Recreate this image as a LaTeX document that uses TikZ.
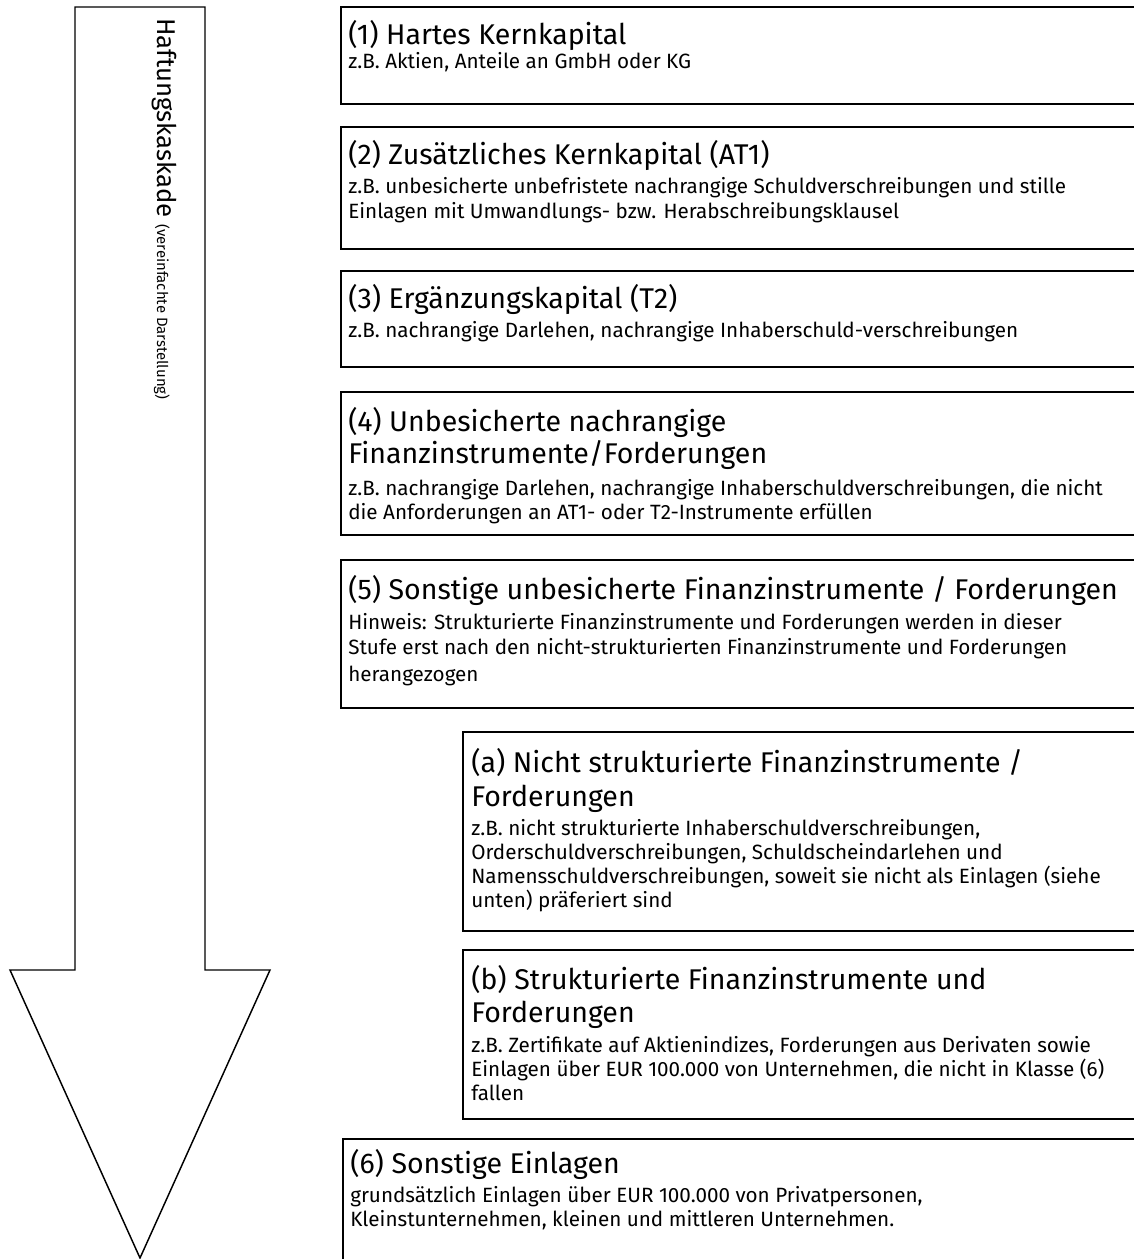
\documentclass[tikz,border=0pt]{standalone}
\usepackage{fontspec}
\setmainfont{Fira Sans}
\begin{document}
\begin{tikzpicture}[x=0.75pt,y=-0.75pt,
  boxline/.style={draw=black,line width=1.1pt},
  arrowline/.style={draw=black,line width=1.1pt,line join=miter},
  tt/.style={anchor=base west,inner sep=0pt,font=\fontsize{21.4}{25}\selectfont},
  st/.style={anchor=base west,inner sep=0pt,font=\fontsize{15.5}{18}\selectfont}]
\clip (0,0) rectangle (1134,1259);
\fill[white] (0,0) rectangle (1134,1259);
% arrow
\draw[arrowline] (75,7) -- (205,7) -- (205,970) -- (270,970) -- (140,1258) -- (10,970) -- (75,970) -- cycle;
\node[anchor=base west,inner sep=0pt,rotate=-90,font=\fontsize{19.3}{23}\selectfont] (arr) at (157,18)
  {Haftungskaskade {\fontsize{11.2}{13}\selectfont (vereinfachte Darstellung)}};
% boxes
\draw[boxline] (1140,7) -- (341,7) -- (341,104) -- (1140,104);
\draw[boxline] (1140,127) -- (341,127) -- (341,249) -- (1140,249);
\draw[boxline] (1140,271) -- (341,271) -- (341,367) -- (1140,367);
\draw[boxline] (1140,392) -- (341,392) -- (341,535) -- (1140,535);
\draw[boxline] (1140,560) -- (341,560) -- (341,708) -- (1140,708);
\draw[boxline] (1140,732) -- (463,732) -- (463,931) -- (1140,931);
\draw[boxline] (1140,950) -- (463,950) -- (463,1119) -- (1140,1119);
\draw[boxline] (1140,1139) -- (343,1139) -- (343,1270);
% box 1
\node[tt] (t1) at (348,45) {(1) Hartes Kernkapital};
\node[st] (s1a) at (348,69) {z.B. Aktien, Anteile an GmbH oder KG};
% box 2
\node[tt] (t2) at (348,165) {(2) Zusätzliches Kernkapital (AT1)};
\node[st] (s2a) at (348,194) {z.B. unbesicherte unbefristete nachrangige Schuldverschreibungen und stille};
\node[st] (s2b) at (348,218) {Einlagen mit Umwandlungs- bzw. Herabschreibungsklausel};
% box 3
\node[tt] (t3) at (348,308) {(3) Ergänzungskapital (T2)};
\node[st] (s3a) at (348,337) {z.B. nachrangige Darlehen, nachrangige Inhaberschuld-verschreibungen};
% box 4
\node[tt] (t4a) at (348,431) {(4) Unbesicherte nachrangige};
\node[tt] (t4b) at (348,463) {Finanzinstrumente/Forderungen};
\node[st] (s4a) at (348,495) {z.B. nachrangige Darlehen, nachrangige Inhaberschuldverschreibungen, die nicht};
\node[st] (s4b) at (348,519) {die Anforderungen an AT1- oder T2-Instrumente erfüllen};
% box 5
\node[tt] (t5) at (348,599) {(5) Sonstige unbesicherte Finanzinstrumente / Forderungen};
\node[st] (s5a) at (348,629) {Hinweis: Strukturierte Finanzinstrumente und Forderungen werden in dieser};
\node[st] (s5b) at (348,654) {Stufe erst nach den nicht-strukturierten Finanzinstrumente und Forderungen};
\node[st] (s5c) at (348,681) {herangezogen};
% box a
\node[tt] (ta1) at (471,772) {(a) Nicht strukturierte Finanzinstrumente /};
\node[tt] (ta2) at (471,806) {Forderungen};
\node[st] (sa1) at (471,835) {z.B. nicht strukturierte Inhaberschuldverschreibungen,};
\node[st] (sa2) at (471,859) {Orderschuldverschreibungen, Schuldscheindarlehen und};
\node[st] (sa3) at (471,883) {Namensschuldverschreibungen, soweit sie nicht als Einlagen (siehe};
\node[st] (sa4) at (471,907) {unten) präferiert sind};
% box b
\node[tt] (tb1) at (471,989) {(b) Strukturierte Finanzinstrumente und};
\node[tt] (tb2) at (471,1022) {Forderungen};
\node[st] (sb1) at (471,1052) {z.B. Zertifikate auf Aktienindizes, Forderungen aus Derivaten sowie};
\node[st] (sb2) at (471,1076) {Einlagen über EUR 100.000 von Unternehmen, die nicht in Klasse (6)};
\node[st] (sb3) at (471,1100) {fallen};
% box 6
\node[tt] (t6) at (350,1173) {(6) Sonstige Einlagen};
\node[st] (s6a) at (350,1202) {grundsätzlich Einlagen über EUR 100.000 von Privatpersonen,};
\node[st] (s6b) at (350,1226) {Kleinstunternehmen, kleinen und mittleren Unternehmen.};
\end{tikzpicture}
\end{document}
